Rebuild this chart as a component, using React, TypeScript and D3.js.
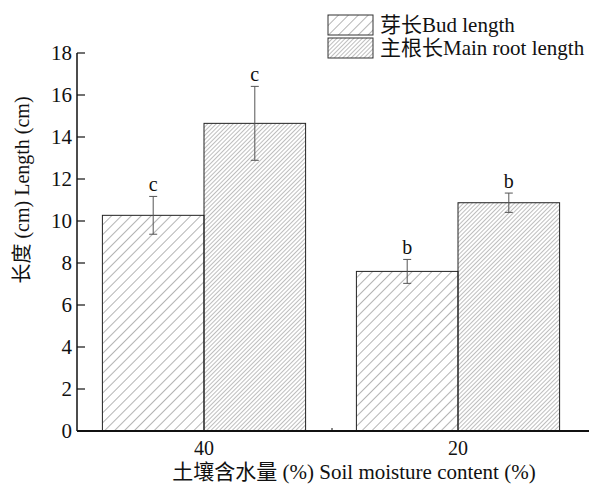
import React from "react";
import * as d3 from "d3";

const categories = ["40", "20"];
const seriesNames = ["芽长Bud length", "主根长Main root length"];
const budValues = [10.27, 7.6];
const rootValues = [14.65, 10.87];
const budErr = [0.9, 0.57];
const rootErr = [1.76, 0.46];
const budLetters = ["c", "b"];
const rootLetters = ["c", "b"];
const yTicks = [0, 2, 4, 6, 8, 10, 12, 14, 16, 18];

const W = 589;
const H = 485;
const left = 77;
const right = 585;
const top = 53;
const bottom = 431;
const font = "'Liberation Serif', 'Times New Roman', 'Noto Sans CJK SC', serif";

export default function App() {
  const x = d3.scaleBand<string>().domain(categories).range([left, right]).paddingInner(0.2).paddingOuter(0.1);
  const y = d3.scaleLinear().domain([0, 18]).range([bottom, top]);
  const sub = d3.scaleBand<string>().domain(["bud", "root"]).range([0, x.bandwidth()]);
  const series = [
    { key: "bud", values: budValues, err: budErr, letters: budLetters, pat: "url(#p1)" },
    { key: "root", values: rootValues, err: rootErr, letters: rootLetters, pat: "url(#p2)" },
  ];
  return (
    <svg width={W} height={H} style={{ position: "absolute", left: 0, top: 0, background: "#fff" }} fontFamily={font}>
      <defs>
        <pattern id="p1" patternUnits="userSpaceOnUse" width={7} height={7} patternTransform="rotate(45)">
          <line x1={0} y1={0} x2={0} y2={7} stroke="#444" strokeWidth={0.8} />
        </pattern>
        <pattern id="p2" patternUnits="userSpaceOnUse" width={3} height={3} patternTransform="rotate(45)">
          <line x1={0} y1={0} x2={0} y2={3} stroke="#444" strokeWidth={0.7} />
        </pattern>
      </defs>
      <rect width={W} height={H} fill="#fff" />
      {series.map((s) =>
        categories.map((c, i) => {
          const x0 = (x(c) as number) + (sub(s.key) as number);
          const w = sub.bandwidth();
          const cx = x0 + w / 2;
          const v = s.values[i];
          const e = s.err[i];
          return (
            <g key={s.key + c}>
              <rect x={x0} y={y(v)} width={w} height={y(0) - y(v)} fill={s.pat} stroke="#222" strokeWidth={1} />
              <line x1={cx} x2={cx} y1={y(v + e)} y2={y(v - e)} stroke="#555" strokeWidth={1} />
              <line x1={cx - 4} x2={cx + 4} y1={y(v + e)} y2={y(v + e)} stroke="#555" strokeWidth={1} />
              <line x1={cx - 4} x2={cx + 4} y1={y(v - e)} y2={y(v - e)} stroke="#555" strokeWidth={1} />
              <text x={cx} y={y(v + e) - 5} textAnchor="middle" fontSize={20} fill="#111">{s.letters[i]}</text>
            </g>
          );
        })
      )}
      {/* y axis */}
      <line x1={left} x2={left} y1={top} y2={bottom} stroke="#111" strokeWidth={1.5} />
      {yTicks.map((t) => (
        <g key={t}>
          <line x1={left} x2={left + 8} y1={y(t)} y2={y(t)} stroke="#111" strokeWidth={1.2} />
          <text x={left - 5} y={y(t)} dy="0.35em" textAnchor="end" fontSize={21} fill="#111">{t}</text>
        </g>
      ))}
      {/* x axis */}
      <line x1={left} x2={W} y1={bottom} y2={bottom} stroke="#111" strokeWidth={2} />
      <line x1={(left + right) / 2 + 1} x2={(left + right) / 2 + 1} y1={bottom - 3} y2={bottom} stroke="#111" strokeWidth={1} />
      {categories.map((c) => (
        <text key={c} x={(x(c) as number) + x.bandwidth() / 2} y={455} textAnchor="middle" fontSize={20} fill="#111">{c}</text>
      ))}
      <text x={354} y={479} textAnchor="middle" fontSize={21} fill="#111">土壤含水量 (%) Soil moisture content (%)</text>
      <text transform={`translate(29,190) rotate(-90)`} textAnchor="middle" fontSize={20} fill="#111">长度 (cm) Length (cm)</text>
      {/* legend */}
      {seriesNames.map((n, i) => (
        <g key={n} transform={`translate(328,${15 + i * 23})`}>
          <rect x={0} y={0} width={45} height={20} fill={i === 0 ? "url(#p1)" : "url(#p2)"} stroke="#333" strokeWidth={1} />
          <text x={52} y={10} dy="0.35em" fontSize={21} fill="#111">{n}</text>
        </g>
      ))}
    </svg>
  );
}
